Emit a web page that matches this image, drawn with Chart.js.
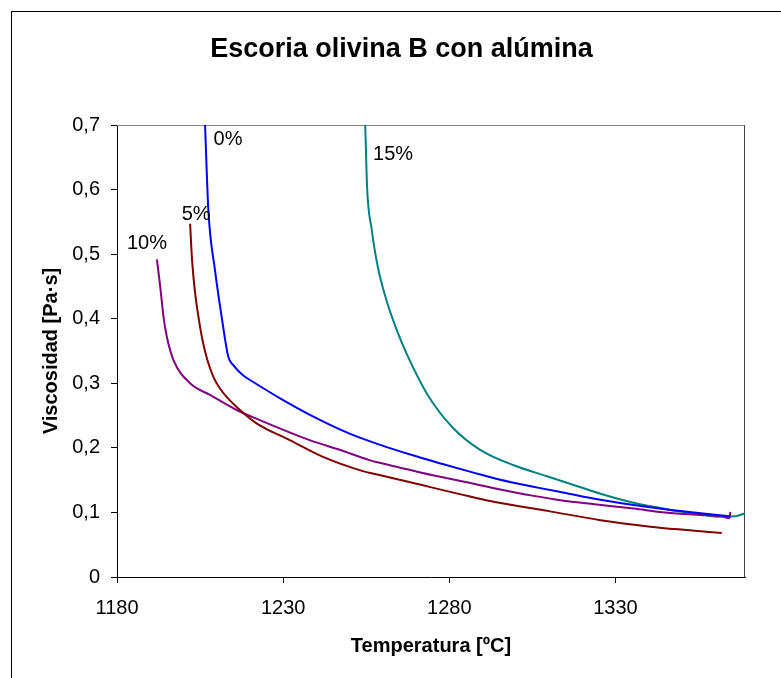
<!DOCTYPE html>
<html>
<head>
<meta charset="utf-8">
<script src="https://cdn.jsdelivr.net/npm/chart.js@4.4.1/dist/chart.umd.min.js"></script>
<style>
  body { margin: 0; background: #fff; }
  canvas { display: block; }
</style>
</head>
<body>
<canvas id="myChart" width="781" height="678"></canvas>
<script>
// data: temperature [ºC] and viscosity [Pa·s]
var x0 = [1206.5, 1207.5, 1209.5, 1211.5, 1213.5, 1215, 1218, 1221, 1230, 1240, 1250, 1259, 1268, 1278, 1287, 1295, 1307, 1315, 1325, 1335, 1345, 1355, 1364.5];
var y0 = [0.70, 0.568, 0.475, 0.403, 0.341, 0.328, 0.312, 0.302, 0.274, 0.246, 0.222, 0.205, 0.190, 0.175, 0.162, 0.151, 0.138, 0.130, 0.120, 0.112, 0.105, 0.099, 0.094];

var x5 = [1202, 1202.6, 1203.5, 1204.6, 1205.8, 1207.2, 1209, 1211, 1213, 1216.5, 1222, 1232, 1242, 1254, 1259, 1268, 1286, 1295, 1310, 1325.5, 1340.5, 1350.6, 1362];
var y5 = [0.547, 0.49, 0.44, 0.40, 0.365, 0.336, 0.310, 0.292, 0.279, 0.261, 0.238, 0.212, 0.186, 0.164, 0.158, 0.147, 0.125, 0.115, 0.102, 0.088, 0.078, 0.073, 0.068];

var x10 = [1192, 1193, 1194, 1195, 1197, 1202, 1208, 1216, 1223, 1238, 1247, 1256, 1259, 1268, 1272, 1285, 1295, 1305, 1313.4, 1325, 1335.5, 1345, 1355.6, 1362, 1364.3, 1364.6];
var y10 = [0.492, 0.450, 0.403, 0.372, 0.336, 0.300, 0.282, 0.2586, 0.243, 0.212, 0.197, 0.181, 0.177, 0.166, 0.161, 0.147, 0.136, 0.126, 0.119, 0.112, 0.106, 0.100, 0.096, 0.094, 0.091, 0.101];

var x15 = [1254.7, 1255.3, 1256.6, 1258.5, 1261, 1264, 1267.5, 1273.5, 1281.3, 1289.3, 1299.4, 1309.4, 1319.5, 1325.5, 1335.5, 1345.5, 1355.6, 1360.6, 1366, 1369];
var y15 = [0.70, 0.60, 0.54, 0.48, 0.43, 0.385, 0.342, 0.282, 0.230, 0.197, 0.173, 0.156, 0.139, 0.129, 0.115, 0.105, 0.097, 0.0934, 0.094, 0.0986];

var xTicks = [1180, 1230, 1280, 1330];
var seriesNames = ["0%", "5%", "10%", "15%"];
var seriesColors = ["#0000ff", "#800000", "#800080", "#008080"];
// where the series names sit, in data units
var labelX = [1213.4, 1203.8, 1189, 1263.1];
var labelY = [0.678, 0.562, 0.517, 0.654];

function pts(xs, ys) {
  return xs.map(function (x, i) { return { x: x, y: ys[i] }; });
}

var frame = {
  id: 'frame',
  beforeDraw: function (chart) {
    var c = chart.ctx;
    c.save();
    c.fillStyle = '#fff';
    c.fillRect(0, 0, chart.width, chart.height);
    c.strokeStyle = '#000';
    c.lineWidth = 1;
    c.strokeRect(11.5, 11.5, chart.width, chart.height);
    // title
    c.fillStyle = '#000';
    c.font = 'bold 27px "Liberation Sans", Arial, sans-serif';
    c.textAlign = 'center';
    c.textBaseline = 'middle';
    c.fillText('Escoria olivina B con alúmina', 401.5, 50);
    c.restore();
  },
  beforeDatasetsDraw: function (chart) {
    var a = chart.chartArea, c = chart.ctx;
    c.save();
    c.lineWidth = 1;
    c.strokeStyle = '#808080';
    c.beginPath();
    c.moveTo(a.left, a.top + 0.5);
    c.lineTo(a.right, a.top + 0.5);
    c.stroke();
    c.strokeStyle = '#404040';
    c.beginPath();
    c.moveTo(a.right - 0.5, a.top);
    c.lineTo(a.right - 0.5, a.bottom);
    c.stroke();
    c.restore();
  },
  afterDatasetsDraw: function (chart) {
    var c = chart.ctx, sx = chart.scales.x, sy = chart.scales.y;
    c.save();
    c.fillStyle = '#000';
    c.font = '20px "Liberation Sans", Arial, sans-serif';
    c.textAlign = 'center';
    c.textBaseline = 'middle';
    seriesNames.forEach(function (n, i) {
      c.fillText(n, sx.getPixelForValue(labelX[i]), sy.getPixelForValue(labelY[i]));
    });
    c.restore();
  }
};

var ctx = document.getElementById("myChart");
var myChart = new Chart(ctx, {
  type: 'line',
  data: {
    datasets: [
      { label: seriesNames[0], data: pts(x0, y0), borderColor: seriesColors[0] },
      { label: seriesNames[1], data: pts(x5, y5), borderColor: seriesColors[1] },
      { label: seriesNames[2], data: pts(x10, y10), borderColor: seriesColors[2] },
      { label: seriesNames[3], data: pts(x15, y15), borderColor: seriesColors[3] }
    ]
  },
  options: {
    responsive: false,
    animation: false,
    layout: { padding: { left: 0, top: 125, right: 36, bottom: 0 } },
    elements: {
      point: { radius: 0 },
      line: { borderWidth: 2, fill: false, cubicInterpolationMode: 'monotone' }
    },
    plugins: {
      legend: { display: false },
      tooltip: { enabled: false },
      title: { display: false }
    },
    scales: {
      x: {
        type: 'linear',
        min: 1180,
        max: 1369,
        afterBuildTicks: function (s) { s.ticks = xTicks.map(function (v) { return { value: v }; }); },
        afterFit: function (s) { s.height = 101; },
        grid: { drawOnChartArea: false, drawTicks: true, tickLength: 6, color: '#000' },
        border: { display: true, color: '#000', width: 1 },
        ticks: {
          color: '#000',
          padding: 13,
          maxRotation: 0,
          font: { family: '"Liberation Sans", Arial, sans-serif', size: 20 },
          callback: function (v) { return String(v); }
        },
        title: {
          display: true,
          text: 'Temperatura [ºC]',
          color: '#000',
          padding: { top: 0, bottom: 20 },
          font: { family: '"Liberation Sans", Arial, sans-serif', size: 20, weight: 'bold' }
        }
      },
      y: {
        min: 0,
        max: 0.7,
        afterFit: function (s) { s.width = 117; },
        grid: { drawOnChartArea: false, drawTicks: true, tickLength: 6, color: '#000' },
        border: { display: true, color: '#000', width: 1 },
        ticks: {
          stepSize: 0.1,
          color: '#000',
          padding: 11,
          font: { family: '"Liberation Sans", Arial, sans-serif', size: 20 },
          callback: function (v) { return v === 0 ? '0' : v.toFixed(1).replace('.', ','); }
        },
        title: {
          display: true,
          text: 'Viscosidad [Pa·s]',
          color: '#000',
          padding: { top: 39, bottom: 0 },
          font: { family: '"Liberation Sans", Arial, sans-serif', size: 20, weight: 'bold' }
        }
      }
    }
  },
  plugins: [frame]
});
</script>
</body>
</html>
